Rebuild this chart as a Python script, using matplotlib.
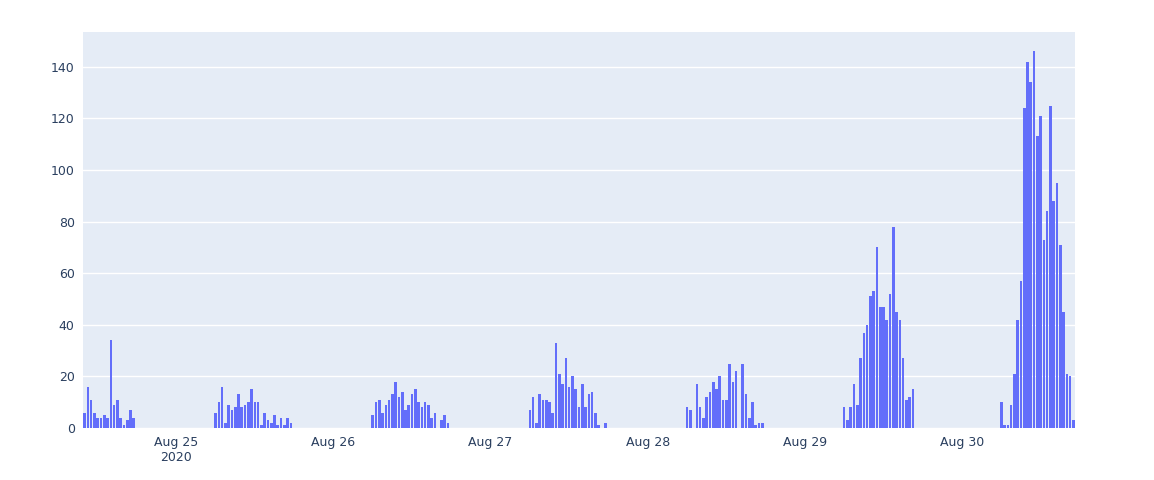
import matplotlib
matplotlib.use("Agg")
import matplotlib.pyplot as plt
import matplotlib.dates as mdates
import pandas as pd
import numpy as np

# 30-minute bins; each cluster: (start timestamp, counts)
c1_start = "2020-08-24 10:00"
c1 = [6, 16, 11, 6, 4, 4, 5, 4, 34, 9, 11, 4, 1, 3, 7, 4]
c2_start = "2020-08-25 06:00"
c2 = [6, 10, 16, 2, 9, 7, 8, 13, 8, 9, 10, 15, 10, 10, 1, 6, 3, 2, 5, 1, 4, 1, 4, 2]
c3_start = "2020-08-26 06:00"
c3 = [5, 10, 11, 6, 9, 11, 13, 18, 12, 14, 7, 9, 13, 15, 10, 8, 10, 9, 4, 6, 0, 3, 5, 2]
c4_start = "2020-08-27 06:00"
c4 = [7, 12, 2, 13, 11, 11, 10, 6, 33, 21, 17, 27, 16, 20, 15, 8, 17, 8, 13, 14, 6, 1, 0, 2]
c5_start = "2020-08-28 06:00"
c5 = [8, 7, 0, 17, 8, 4, 12, 14, 18, 15, 20, 11, 11, 25, 18, 22, 0, 25, 13, 4, 10, 1, 2, 2]
c6_start = "2020-08-29 06:00"
c6 = [8, 3, 8, 17, 9, 27, 37, 40, 51, 53, 70, 47, 47, 42, 52, 78, 45, 42, 27, 11, 12, 15]
c7_start = "2020-08-30 06:00"
c7 = [10, 1, 1, 9, 21, 42, 57, 124, 142, 134, 146, 113, 121, 73, 84, 125, 88, 95, 71, 45, 21, 20, 3]

clusters = [(c1_start, c1), (c2_start, c2), (c3_start, c3), (c4_start, c4),
            (c5_start, c5), (c6_start, c6), (c7_start, c7)]
times, vals = [], []
for s, v in clusters:
    times.extend(pd.date_range(s, periods=len(v), freq="30min"))
    vals.extend(v)
times = pd.DatetimeIndex(times)

fig = plt.figure(figsize=(11.54, 4.8), dpi=100)
ax = fig.add_axes([83/1154, 1-428/480, (1075-83)/1154, (428-32)/480])
ax.set_facecolor("#E5ECF6")
width = pd.Timedelta("30min") / pd.Timedelta("1D") * 0.8
ax.bar(mdates.date2num(times), vals, width=width, color="#636efa", zorder=3)
half = pd.Timedelta("15min")
ax.set_xlim(mdates.date2num(times[0] - half), mdates.date2num(times[-1] + half))
ax.set_ylim(0, 153.5)
ax.set_yticks(np.arange(0, 141, 20))
ax.grid(axis="y", color="white", linewidth=1, zorder=0)
ax.xaxis.set_major_locator(mdates.DayLocator())
ticks = pd.date_range("2020-08-25", "2020-08-30", freq="D")
ax.set_xticks(mdates.date2num(ticks))
ax.set_xticklabels(["Aug 25\n2020"] + [t.strftime("%b %d") for t in ticks[1:]])
for sp in ax.spines.values():
    sp.set_visible(False)
ax.tick_params(length=0, colors="#2a3f5f", labelsize=9, pad=6)
for l in ax.get_xticklabels():
    l.set_verticalalignment("top")
fig.savefig("out.png", dpi=100, facecolor="white")
